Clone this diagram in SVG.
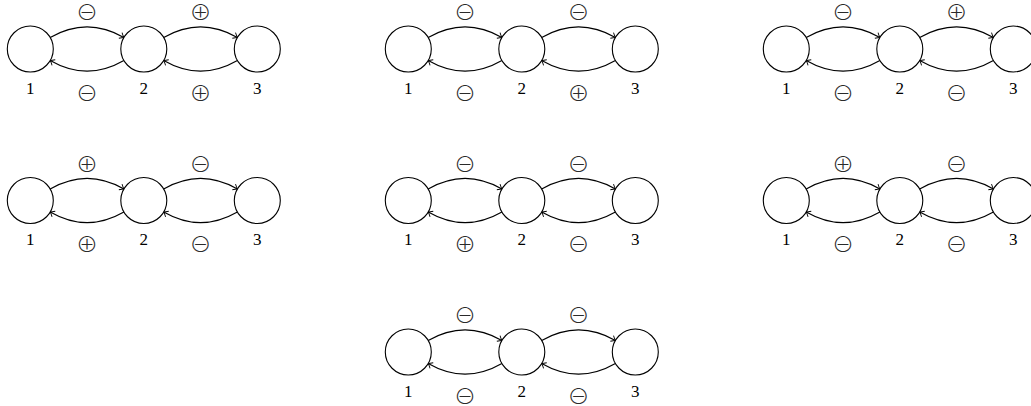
<svg xmlns="http://www.w3.org/2000/svg" width="1031" height="406" viewBox="0 0 1031 406">
<style>
.n{fill:#fff;stroke:#000;stroke-width:1.1}
.e{fill:none;stroke:#000;stroke-width:1.1;marker-end:url(#ah)}
.l{font-family:"Liberation Serif","DejaVu Serif",serif;font-size:17px;fill:#000;text-anchor:middle}
.s{font-family:"Noto Sans CJK JP","Noto Sans CJK SC",sans-serif;font-size:22px;font-weight:200;fill:#2a2a2a;text-anchor:middle;dominant-baseline:central}
</style>
<defs>
<marker id="ah" viewBox="-5 -4 6 8" markerWidth="6" markerHeight="8" refX="0" refY="0" orient="auto" markerUnits="userSpaceOnUse">
<path d="M-4,-3.2 Q-1.2,-0.6 0,0 Q-1.2,0.6 -4,3.2" fill="none" stroke="#000" stroke-width="0.9"/>
</marker>
<g id="edges">
<path class="e" d="M19.9,-11.5 C44.9,-25.9 68.6,-25.9 93.6,-11.5"/>
<path class="e" d="M93.6,11.5 C68.6,25.9 44.9,25.9 19.9,11.5"/>
<path class="e" d="M133.4,-11.5 C158.4,-25.9 182.1,-25.9 207.1,-11.5"/>
<path class="e" d="M207.1,11.5 C182.1,25.9 158.4,25.9 133.4,11.5"/>
</g>
</defs>

<!-- Diagram 1 -->
<g id="d1" transform="translate(30.3,49)">
<g id="d1-connectors"><use href="#edges"/></g>
<g id="d1-n1"><circle class="n" cx="0" cy="0" r="23"/><text class="l" x="0" y="44.5">1</text></g>
<g id="d1-n2"><circle class="n" cx="113.5" cy="0" r="23"/><text class="l" x="113.5" y="44.5">2</text></g>
<g id="d1-n3"><circle class="n" cx="227" cy="0" r="23"/><text class="l" x="227" y="44.5">3</text></g>
<g id="d1-signs"><text class="s" x="56.75" y="-39">⊖</text><text class="s" x="170.25" y="-39">⊕</text><text class="s" x="56.75" y="41.5">⊖</text><text class="s" x="170.25" y="41.5">⊕</text></g>
</g>

<!-- Diagram 2 -->
<g id="d2" transform="translate(408.3,49)">
<g id="d2-connectors"><use href="#edges"/></g>
<g id="d2-n1"><circle class="n" cx="0" cy="0" r="23"/><text class="l" x="0" y="44.5">1</text></g>
<g id="d2-n2"><circle class="n" cx="113.5" cy="0" r="23"/><text class="l" x="113.5" y="44.5">2</text></g>
<g id="d2-n3"><circle class="n" cx="227" cy="0" r="23"/><text class="l" x="227" y="44.5">3</text></g>
<g id="d2-signs"><text class="s" x="56.75" y="-39">⊖</text><text class="s" x="170.25" y="-39">⊖</text><text class="s" x="56.75" y="41.5">⊖</text><text class="s" x="170.25" y="41.5">⊕</text></g>
</g>

<!-- Diagram 3 -->
<g id="d3" transform="translate(786.3,49)">
<g id="d3-connectors"><use href="#edges"/></g>
<g id="d3-n1"><circle class="n" cx="0" cy="0" r="23"/><text class="l" x="0" y="44.5">1</text></g>
<g id="d3-n2"><circle class="n" cx="113.5" cy="0" r="23"/><text class="l" x="113.5" y="44.5">2</text></g>
<g id="d3-n3"><circle class="n" cx="227" cy="0" r="23"/><text class="l" x="227" y="44.5">3</text></g>
<g id="d3-signs"><text class="s" x="56.75" y="-39">⊖</text><text class="s" x="170.25" y="-39">⊕</text><text class="s" x="56.75" y="41.5">⊖</text><text class="s" x="170.25" y="41.5">⊖</text></g>
</g>

<!-- Diagram 4 -->
<g id="d4" transform="translate(30.3,200.5)">
<g id="d4-connectors"><use href="#edges"/></g>
<g id="d4-n1"><circle class="n" cx="0" cy="0" r="23"/><text class="l" x="0" y="44.5">1</text></g>
<g id="d4-n2"><circle class="n" cx="113.5" cy="0" r="23"/><text class="l" x="113.5" y="44.5">2</text></g>
<g id="d4-n3"><circle class="n" cx="227" cy="0" r="23"/><text class="l" x="227" y="44.5">3</text></g>
<g id="d4-signs"><text class="s" x="56.75" y="-39">⊕</text><text class="s" x="170.25" y="-39">⊖</text><text class="s" x="56.75" y="41.5">⊕</text><text class="s" x="170.25" y="41.5">⊖</text></g>
</g>

<!-- Diagram 5 -->
<g id="d5" transform="translate(408.3,200.5)">
<g id="d5-connectors"><use href="#edges"/></g>
<g id="d5-n1"><circle class="n" cx="0" cy="0" r="23"/><text class="l" x="0" y="44.5">1</text></g>
<g id="d5-n2"><circle class="n" cx="113.5" cy="0" r="23"/><text class="l" x="113.5" y="44.5">2</text></g>
<g id="d5-n3"><circle class="n" cx="227" cy="0" r="23"/><text class="l" x="227" y="44.5">3</text></g>
<g id="d5-signs"><text class="s" x="56.75" y="-39">⊖</text><text class="s" x="170.25" y="-39">⊖</text><text class="s" x="56.75" y="41.5">⊕</text><text class="s" x="170.25" y="41.5">⊖</text></g>
</g>

<!-- Diagram 6 -->
<g id="d6" transform="translate(786.3,200.5)">
<g id="d6-connectors"><use href="#edges"/></g>
<g id="d6-n1"><circle class="n" cx="0" cy="0" r="23"/><text class="l" x="0" y="44.5">1</text></g>
<g id="d6-n2"><circle class="n" cx="113.5" cy="0" r="23"/><text class="l" x="113.5" y="44.5">2</text></g>
<g id="d6-n3"><circle class="n" cx="227" cy="0" r="23"/><text class="l" x="227" y="44.5">3</text></g>
<g id="d6-signs"><text class="s" x="56.75" y="-39">⊕</text><text class="s" x="170.25" y="-39">⊖</text><text class="s" x="56.75" y="41.5">⊖</text><text class="s" x="170.25" y="41.5">⊖</text></g>
</g>

<!-- Diagram 7 -->
<g id="d7" transform="translate(408.3,352)">
<g id="d7-connectors"><use href="#edges"/></g>
<g id="d7-n1"><circle class="n" cx="0" cy="0" r="23"/><text class="l" x="0" y="44.5">1</text></g>
<g id="d7-n2"><circle class="n" cx="113.5" cy="0" r="23"/><text class="l" x="113.5" y="44.5">2</text></g>
<g id="d7-n3"><circle class="n" cx="227" cy="0" r="23"/><text class="l" x="227" y="44.5">3</text></g>
<g id="d7-signs"><text class="s" x="56.75" y="-39">⊖</text><text class="s" x="170.25" y="-39">⊖</text><text class="s" x="56.75" y="41.5">⊖</text><text class="s" x="170.25" y="41.5">⊖</text></g>
</g>
</svg>
